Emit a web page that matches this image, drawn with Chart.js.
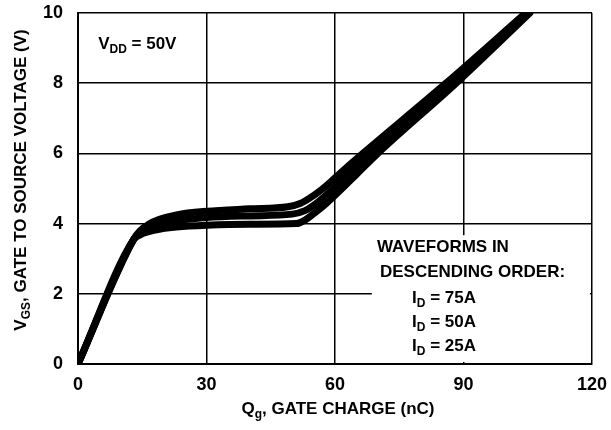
<!DOCTYPE html>
<html>
<head>
<meta charset="utf-8">
<script src="https://cdn.jsdelivr.net/npm/chart.js@4.4.0/dist/chart.umd.min.js"></script>
<style>
  html, body { margin: 0; padding: 0; background: #fff; }
</style>
</head>
<body>
<canvas id="gateChart" width="611" height="430"></canvas>
<script>
const X_TICKS = [0, 30, 60, 90, 120]
const Y_TICKS = [0, 2, 4, 6, 8, 10]

// Gate charge (nC) / Vgs (V), top to bottom
const Q_75A = [0, 13, 14.5, 16.5, 19, 23, 30, 40, 49, 52, 54, 57, 60, 63, 66.5, 85.9, 104.5]
const V_75A = [0, 3.55, 3.8, 3.98, 4.12, 4.25, 4.35, 4.42, 4.48, 4.58, 4.72, 4.98, 5.3, 5.63, 6, 8, 10]

const Q_50A = [0, 13, 14.5, 16.5, 19, 23, 30, 40, 50, 53, 55, 58, 61, 64, 68, 87.1, 105]
const V_50A = [0, 3.55, 3.75, 3.88, 3.98, 4.08, 4.17, 4.22, 4.27, 4.37, 4.52, 4.82, 5.17, 5.52, 5.95, 8, 10]

const Q_25A = [0, 13, 14.5, 16.5, 19, 23, 30, 40, 51, 53, 55, 58, 61, 65, 70, 88.3, 105.5]
const V_25A = [0, 3.55, 3.68, 3.77, 3.84, 3.9, 3.95, 3.98, 4.0, 4.1, 4.28, 4.58, 4.92, 5.4, 6, 8, 10]

const FONT = "'Liberation Sans', Arial, sans-serif"
const INK = '#000'

const toPoints = (xs, ys) => xs.map((x, i) => ({ x, y: ys[i] }))

function curve(label, xs, ys) {
  return {
    label,
    data: toPoints(xs, ys),
    borderColor: INK,
    borderWidth: 7,
    pointRadius: 0,
    cubicInterpolationMode: 'monotone',
    borderCapStyle: 'round',
    borderJoinStyle: 'round',
    fill: false,
  }
}

// draw a run of text pieces, some as subscripts
function richWidth(ctx, parts, size) {
  let w = 0
  parts.forEach(([txt, sub]) => {
    ctx.font = `bold ${sub ? Math.round(size * 0.72) : size}px ${FONT}`
    w += ctx.measureText(txt).width
  })
  return w
}

function drawRich(ctx, parts, x, y, size, align = 'left') {
  let cx = align === 'center' ? x - richWidth(ctx, parts, size) / 2 : x
  ctx.textBaseline = 'middle'
  ctx.textAlign = 'left'
  ctx.fillStyle = INK
  parts.forEach(([txt, sub]) => {
    ctx.font = `bold ${sub ? Math.round(size * 0.72) : size}px ${FONT}`
    ctx.fillText(txt, cx, y + (sub ? size * 0.32 : 0))
    cx += ctx.measureText(txt).width
  })
}

// blank out grid behind the note in the lower right
const noteMask = {
  id: 'noteMask',
  beforeDatasetsDraw(chart) {
    const { ctx, scales: { x, y } } = chart
    const x0 = x.getPixelForValue(68.6)
    const y0 = y.getPixelForValue(3.67)
    ctx.save()
    ctx.fillStyle = '#fff'
    ctx.fillRect(x0, y0, x.right - 2 - x0, y.bottom - 2 - y0)
    ctx.restore()
  }
}

const labels = {
  id: 'labels',
  afterDraw(chart) {
    const { ctx, scales: { x, y } } = chart
    ctx.save()

    drawRich(ctx, [['V'], ['DD', true], [' = 50V']], x.getPixelForValue(4.7), y.getPixelForValue(9.1), 17)

    drawRich(ctx, [['WAVEFORMS IN']], x.getPixelForValue(69.8), y.getPixelForValue(3.33), 17)
    drawRich(ctx, [['DESCENDING ORDER:']], x.getPixelForValue(70.5), y.getPixelForValue(2.62), 17)
    drawRich(ctx, [['I'], ['D', true], [' = 75A']], x.getPixelForValue(78), y.getPixelForValue(1.88), 17)
    drawRich(ctx, [['I'], ['D', true], [' = 50A']], x.getPixelForValue(78), y.getPixelForValue(1.2), 17)
    drawRich(ctx, [['I'], ['D', true], [' = 25A']], x.getPixelForValue(78), y.getPixelForValue(0.51), 17)

    // axis titles
    drawRich(ctx, [['Q'], ['g', true], [', GATE CHARGE (nC)']], 338, 409, 17, 'center')

    ctx.translate(21, 180)
    ctx.rotate(-Math.PI / 2)
    drawRich(ctx, [['V'], ['GS', true], [', GATE TO SOURCE VOLTAGE (V)']], 0, 0, 17, 'center')
    ctx.restore()
  }
}

const axisStyle = {
  grid: { color: INK, lineWidth: 1.5, drawTicks: false },
  border: { color: INK, width: 2 },
}

new Chart(document.getElementById('gateChart'), {
  type: 'line',
  data: {
    datasets: [
      curve('ID = 75A', Q_75A, V_75A),
      curve('ID = 50A', Q_50A, V_50A),
      curve('ID = 25A', Q_25A, V_25A),
    ]
  },
  options: {
    responsive: false,
    animation: false,
    layout: { padding: { top: 13, right: 19, left: 0, bottom: 0 } },
    scales: {
      x: {
        type: 'linear',
        min: 0,
        max: 120,
        ...axisStyle,
        afterBuildTicks: s => { s.ticks = X_TICKS.map(value => ({ value })) },
        afterFit: s => { s.height = 66; s.paddingLeft = 0; s.paddingRight = 0 },
        ticks: { padding: 10, color: INK, font: { family: FONT, size: 18, weight: 'bold' } },
      },
      y: {
        min: 0,
        max: 10,
        ...axisStyle,
        afterBuildTicks: s => { s.ticks = Y_TICKS.map(value => ({ value })) },
        afterFit: s => { s.width = 78; s.paddingTop = 0; s.paddingBottom = 0 },
        ticks: { padding: 15, color: INK, font: { family: FONT, size: 18, weight: 'bold' } },
      }
    },
    plugins: {
      legend: { display: false },
      tooltip: { enabled: false },
    }
  },
  plugins: [noteMask, labels]
})
</script>
</body>
</html>
